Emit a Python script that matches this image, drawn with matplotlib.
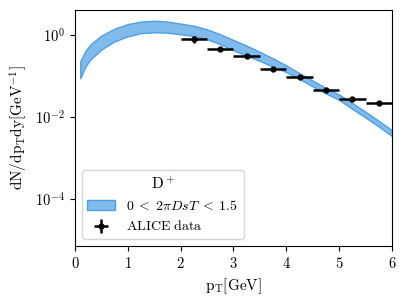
import numpy as np
import matplotlib
matplotlib.use("Agg")
import matplotlib.pyplot as plt
from matplotlib.ticker import FixedLocator, NullLocator, LogFormatterMathtext

plt.rcParams['font.family'] = 'cmr10'
plt.rcParams['mathtext.fontset'] = 'cm'
plt.rcParams['axes.formatter.use_mathtext'] = True
plt.rcParams['font.size'] = 10.5

# Model band (log10 of dN/dpT dy)
band_pt = [0.1, 0.2, 0.3, 0.5, 0.75, 1.0, 1.25, 1.5, 1.75, 2.0, 2.25, 2.5, 2.75,
           3.0, 3.25, 3.5, 3.75, 4.0, 4.25, 4.5, 4.75, 5.0, 5.25, 5.5, 5.75, 6.0]
band_upper_log = [-0.64, -0.38, -0.22, -0.01, 0.16, 0.27, 0.33, 0.35, 0.33, 0.28, 0.23, 0.14, 0.02,
                  -0.12, -0.26, -0.41, -0.57, -0.74, -0.93, -1.11, -1.29, -1.45, -1.66, -1.87, -2.09, -2.32]
band_lower_log = [-1.05, -0.76, -0.58, -0.35, -0.15, -0.03, 0.05, 0.07, 0.06, 0.02, -0.02, -0.10, -0.22,
                  -0.37, -0.50, -0.63, -0.77, -0.90, -1.07, -1.25, -1.42, -1.58, -1.80, -2.01, -2.23, -2.46]

# ALICE data
data_pt = [2.25, 2.75, 3.25, 3.75, 4.25, 4.75, 5.25, 5.75]
data_y = [0.80, 0.47, 0.31, 0.15, 0.095, 0.046, 0.027, 0.022]
data_xerr = [0.25, 0.25, 0.25, 0.25, 0.25, 0.25, 0.25, 0.25]
data_yerr = [0.15, 0.05, 0.03, 0.015, 0.009, 0.004, 0.0025, 0.002]

fig = plt.figure(figsize=(4.06, 3.04), dpi=100)
ax = fig.add_axes([75/406, 1-246/304, (392-75)/406, (246-10)/304])

upper = 10**np.array(band_upper_log)
lower = 10**np.array(band_lower_log)
ax.fill_between(band_pt, lower, upper, facecolor='#80bbeb', edgecolor='#4f9fe3',
                linewidth=1.0, label=r'$0\;<\;2\pi DsT\;<\;1.5$')
ax.errorbar(data_pt, data_y, xerr=data_xerr, yerr=data_yerr, fmt='o', color='black',
            ms=3.5, elinewidth=1.8, capsize=0, label=r'$\mathrm{ALICE\ data}$')

ax.set_yscale('log')
ax.set_xlim(0, 6)
ax.set_ylim(7.2e-6, 4.1)
ax.yaxis.set_major_locator(FixedLocator([1e-4, 1e-2, 1e0]))
ax.yaxis.set_major_formatter(LogFormatterMathtext())
ax.yaxis.set_minor_locator(NullLocator())
ax.set_xticks([0, 1, 2, 3, 4, 5, 6])

ax.set_xlabel(r'$\mathrm{p_T[GeV]}$', fontsize=11)
ax.set_ylabel(r'$\mathrm{dN/dp_Tdy[GeV^{-1}]}$', fontsize=11)

leg = ax.legend(loc='lower left', title=r'$\mathrm{D^+}$', fontsize=10, title_fontsize=11)

fig.savefig('out.png', dpi=100)
